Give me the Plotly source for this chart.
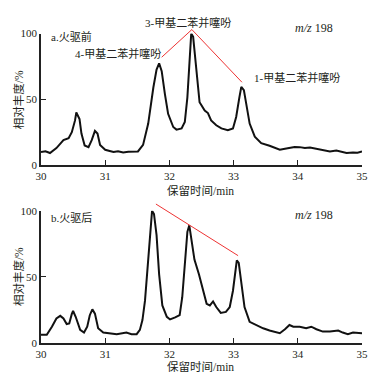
import plotly.graph_objects as go

# Top chart (a. before fire flooding)
top_time = [30.0, 30.07, 30.14, 30.24, 30.35, 30.43, 30.48, 30.53, 30.55, 30.6, 30.63, 30.68, 30.74,
            30.79, 30.84, 30.88, 30.92, 31.0, 31.07, 31.13, 31.2, 31.28, 31.36, 31.44, 31.51, 31.59,
            31.67, 31.75, 31.8, 31.84, 31.88, 31.93, 31.98, 32.06, 32.11, 32.19, 32.24, 32.28, 32.32,
            32.34, 32.37, 32.42, 32.47, 32.55, 32.6, 32.65, 32.73, 32.81, 32.91, 32.99, 33.04, 33.09,
            33.12, 33.16, 33.2, 33.25, 33.33, 33.43, 33.56, 33.65, 33.72, 33.8, 33.87, 33.95, 34.03,
            34.11, 34.19, 34.27, 34.34, 34.42, 34.5, 34.6, 34.68, 34.76, 34.86, 34.93, 35.0]
top_abund = [10.0, 10.6, 9.2, 13.0, 19.0, 20.4, 25.0, 34.0, 40.0, 35.0, 24.0, 15.0, 13.7,
             19.0, 26.0, 24.0, 15.4, 11.7, 10.8, 10.0, 10.6, 9.7, 10.2, 10.4, 10.4, 15.4,
             31.6, 59.0, 72.6, 77.4, 71.4, 54.0, 39.0, 29.0, 27.0, 27.9, 32.8, 51.5, 88.8,
             100.0, 97.5, 71.4, 47.8, 41.5, 39.6, 34.0, 30.3, 27.9, 26.6, 27.9, 36.6, 51.5,
             59.5, 57.0, 46.5, 31.6, 21.6, 16.7, 14.7, 13.2, 11.7, 12.4, 12.9, 13.8, 13.7,
             13.0, 13.4, 12.6, 12.2, 11.0, 10.4, 11.2, 10.0, 9.2, 9.7, 9.4, 10.4]

# Bottom chart (b. after fire flooding)
bot_time = [30.0, 30.09, 30.17, 30.24, 30.3, 30.35, 30.4, 30.44, 30.48, 30.5, 30.54, 30.61, 30.67,
            30.72, 30.76, 30.8, 30.84, 30.89, 30.97, 31.07, 31.18, 31.33, 31.41, 31.49, 31.54, 31.58,
            31.62, 31.66, 31.7, 31.73, 31.76, 31.8, 31.84, 31.89, 31.96, 32.01, 32.09, 32.16, 32.2,
            32.24, 32.28, 32.31, 32.34, 32.39, 32.46, 32.53, 32.58, 32.63, 32.68, 32.73, 32.8, 32.88,
            32.94, 32.99, 33.03, 33.05, 33.08, 33.12, 33.17, 33.25, 33.36, 33.46, 33.56, 33.67, 33.72,
            33.8, 33.87, 33.93, 34.03, 34.13, 34.21, 34.29, 34.39, 34.5, 34.63, 34.7, 34.78, 34.86, 35.0]
bot_abund = [6.2, 6.2, 12.3, 18.5, 20.5, 18.5, 14.3, 14.8, 22.0, 24.2, 19.8, 9.9, 7.9,
             12.3, 21.0, 25.4, 22.2, 11.1, 7.9, 7.4, 6.7, 7.9, 6.7, 6.7, 9.9, 17.3,
             32.0, 56.8, 84.0, 100.0, 97.5, 81.5, 51.9, 28.4, 19.8, 17.8, 19.3, 21.0, 34.6,
             59.0, 84.0, 88.9, 79.0, 63.0, 51.9, 39.5, 29.6, 28.4, 31.4, 27.2, 22.7, 23.5,
             27.2, 39.5, 58.0, 62.5, 60.5, 47.0, 27.2, 16.0, 13.1, 11.1, 9.4, 8.1, 7.4,
             10.4, 13.6, 12.3, 12.3, 11.1, 12.3, 10.4, 8.6, 8.6, 9.4, 7.9, 6.7, 7.9, 7.4]

# Red guide lines (connecting peak labels), in the same abundance units
top_guide_x = [31.88, 32.35, 33.13]
top_guide_y = [82, 103, 63]
bot_guide_x = [31.79, 33.07]
bot_guide_y = [105, 66]

x_ticks = [30, 31, 32, 33, 34, 35]
y_ticks = [0, 50, 100]

FONT = "Liberation Serif, Times New Roman, Noto Sans CJK SC"
TXT = "#231f20"

fig = go.Figure()
fig.add_trace(go.Scatter(x=top_time, y=top_abund, mode="lines",
                         line=dict(color="#111111", width=2), xaxis="x", yaxis="y",
                         showlegend=False))
fig.add_trace(go.Scatter(x=bot_time, y=bot_abund, mode="lines",
                         line=dict(color="#111111", width=2), xaxis="x2", yaxis="y2",
                         showlegend=False))
# guide lines on hidden companion axes with identical scale but taller domain (so not clipped at 100)
fig.add_trace(go.Scatter(x=top_guide_x, y=top_guide_y, mode="lines",
                         line=dict(color="#ee3333", width=1), xaxis="x3", yaxis="y3",
                         showlegend=False))
fig.add_trace(go.Scatter(x=bot_guide_x, y=bot_guide_y, mode="lines",
                         line=dict(color="#ee3333", width=1), xaxis="x4", yaxis="y4",
                         showlegend=False))

axis_common = dict(showline=True, linecolor="#222222", linewidth=1.5, ticks="inside",
                   ticklen=5, tickcolor="#222222", showgrid=False, zeroline=False,
                   tickfont=dict(family=FONT, size=11, color=TXT))
hidden = dict(visible=False, showgrid=False, zeroline=False)

H = 343.0  # plot-area height in px (t=0, b=39)
top_dom = [(H - 162) / H, (H - 28) / H]
bot_dom = [0.0, (H - 208.3) / H]
top_ext = [top_dom[0], 1.0]
bot_ext = [0.0, 0.55]
top_scale = (top_dom[1] - top_dom[0]) / 100.0
bot_scale = (bot_dom[1] - bot_dom[0]) / 100.0

fig.update_layout(
    width=385, height=382,
    margin=dict(l=41, r=23, t=0, b=39),
    paper_bgcolor="white", plot_bgcolor="rgba(0,0,0,0)",
    xaxis=dict(domain=[0, 1], range=[30, 35], tickvals=x_ticks, anchor="y", **axis_common),
    yaxis=dict(domain=top_dom, range=[0, 100], tickvals=y_ticks, anchor="x", **axis_common),
    xaxis2=dict(domain=[0, 1], range=[30, 35], tickvals=x_ticks, anchor="y2", **axis_common),
    yaxis2=dict(domain=bot_dom, range=[0, 100], tickvals=y_ticks, anchor="x2", **axis_common),
    xaxis3=dict(domain=[0, 1], range=[30, 35], anchor="y3", **hidden),
    yaxis3=dict(domain=top_ext, range=[0, (top_ext[1] - top_ext[0]) / top_scale], anchor="x3", **hidden),
    xaxis4=dict(domain=[0, 1], range=[30, 35], anchor="y4", **hidden),
    yaxis4=dict(domain=bot_ext, range=[0, (bot_ext[1] - bot_ext[0]) / bot_scale], anchor="x4", **hidden),
)

def py(p):
    return (H - p) / H

ann = []
def A(text, x, y, xref="x", yref="paper", size=11, xanchor="center", yanchor="middle", textangle=0):
    ann.append(dict(text=text, x=x, y=y, xref=xref, yref=yref, showarrow=False,
                    xanchor=xanchor, yanchor=yanchor, textangle=textangle,
                    font=dict(family=FONT, size=size, color=TXT)))

A("a.火驱前", 30.13, py(31), xanchor="left")
A("<i>m/z</i> 198", 33.93, py(22), size=12, xanchor="left")
A("3-甲基二苯并噻吩", 32.29, py(17))
A("4-甲基二苯并噻吩", 31.9, py(48), xanchor="right")
A("1-甲基二苯并噻吩", 33.29, py(73), xanchor="left")
A("b.火驱后", 30.13, py(216), xanchor="left")
A("<i>m/z</i> 198", 33.93, py(213), size=12, xanchor="left")

# axis titles
A("保留时间/min", 32.48, py(188), size=11.5)
A("保留时间/min", 32.48, py(367), size=11.5)
A("相对丰度/%", -0.072, py(95), xref="paper", size=11.5, textangle=-90)
A("相对丰度/%", -0.072, py(275), xref="paper", size=11.5, textangle=-90)

fig.update_layout(annotations=ann)
fig.write_html("out.html", config={"displayModeBar": False},
               post_script="document.body.style.margin='0';document.body.style.overflow='hidden';")
